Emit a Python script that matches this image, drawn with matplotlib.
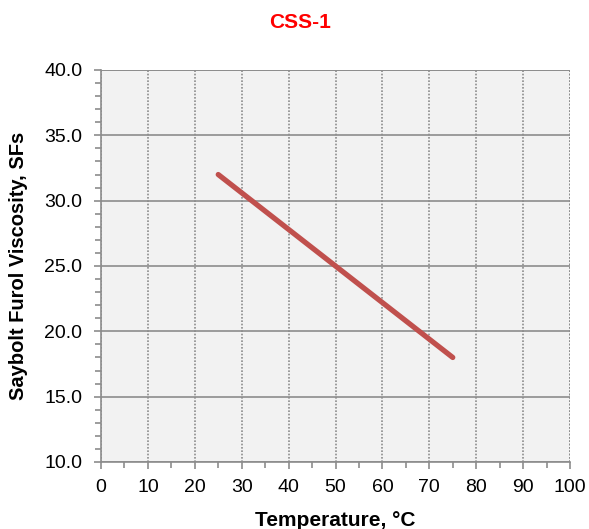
import matplotlib
matplotlib.use('Agg')
import matplotlib.pyplot as plt
from matplotlib.ticker import MultipleLocator, FormatStrFormatter

matplotlib.rcParams['font.family'] = ['Liberation Sans', 'DejaVu Sans']
matplotlib.rcParams['font.size'] = 12

temperature = [25, 50, 75]
viscosity = [32.0, 25.0, 18.0]

fig = plt.figure(figsize=(5.89, 5.29), dpi=100)
ax = fig.add_axes([101 / 589, 1 - 462 / 529, 469 / 589, 392 / 529])
ax.set_facecolor('#f2f2f2')

ax.plot(temperature, viscosity, color='#c0504d', lw=3.8, solid_capstyle='round', zorder=3)

ax.set_xlim(0, 100)
ax.set_ylim(10, 40)
ax.xaxis.set_major_locator(MultipleLocator(10))
ax.xaxis.set_minor_locator(MultipleLocator(5))
ax.yaxis.set_major_locator(MultipleLocator(5))
ax.yaxis.set_minor_locator(MultipleLocator(1))
ax.yaxis.set_major_formatter(FormatStrFormatter('%.1f'))

ax.grid(axis='y', which='major', color='#8c8c8c', lw=1.2, ls='-')
ax.grid(axis='x', which='major', color='#8c8c8c', lw=1.2, ls=(0, (1, 1)))
ax.set_axisbelow(True)

for s in ['top', 'right']:
    ax.spines[s].set_visible(False)
for s in ['left', 'bottom']:
    ax.spines[s].set_color('#8c8c8c')
    ax.spines[s].set_linewidth(1.2)
ax.axvline(100, color='#8c8c8c', lw=1.2, ls=(0, (1, 1)), zorder=1)
ax.axhline(40, color='#8c8c8c', lw=1.2, zorder=1)

ax.tick_params(which='both', direction='out', color='#8c8c8c', width=1.2, labelsize=14)
ax.tick_params(which='major', length=5)
ax.tick_params(which='minor', length=4)
ax.tick_params(axis='x', which='major', pad=7)
ax.tick_params(axis='y', which='major', pad=8.5)

ax.set_xlabel('Temperature, °C', fontweight='bold', fontsize=15, labelpad=11)
ax.set_ylabel('Saybolt Furol Viscosity, SFs', fontweight='bold', fontsize=14.5, labelpad=11.5)
fig.text(300 / 589, 1 - 22 / 529, 'CSS-1', color='#ff0000', fontweight='bold', fontsize=15,
         ha='center', va='center')

fig.savefig('out.png', dpi=100)
